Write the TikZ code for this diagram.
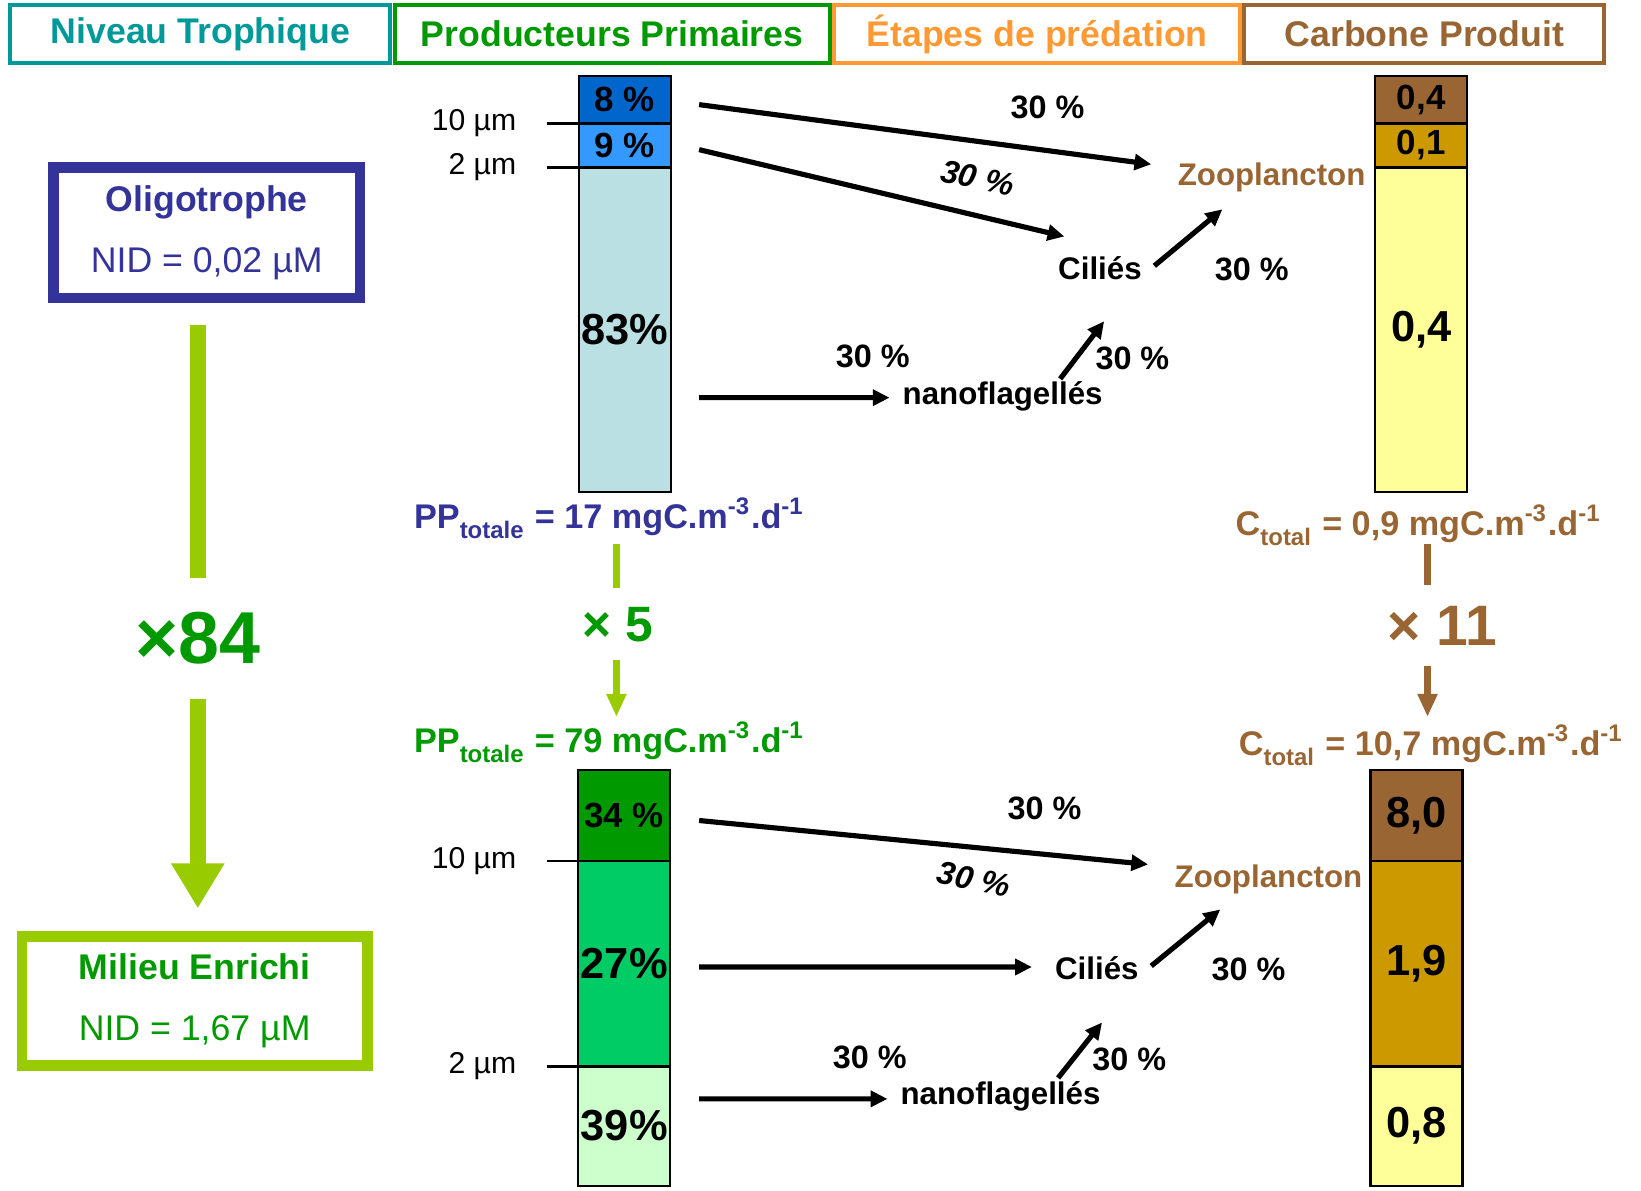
\documentclass[tikz,border=0pt]{standalone}
\usepackage{fontspec}
\setmainfont{Liberation Sans}
\usetikzlibrary{arrows.meta}

\definecolor{nivcol}{RGB}{0,153,153}
\definecolor{prodcol}{RGB}{0,153,0}
\definecolor{predcol}{RGB}{255,153,51}
\definecolor{carbcol}{RGB}{153,102,51}
\definecolor{oligocol}{RGB}{51,51,153}
\definecolor{enrcol}{RGB}{153,204,0}
\definecolor{blueA}{RGB}{0,102,204}
\definecolor{blueB}{RGB}{51,153,255}
\definecolor{blueC}{RGB}{187,224,227}
\definecolor{greenB}{RGB}{0,204,102}
\definecolor{greenC}{RGB}{204,255,204}
\definecolor{ochre}{RGB}{204,153,0}
\definecolor{paleyellow}{RGB}{255,255,153}
\newcommand{\lowsub}[1]{\raisebox{-0.12em}{\textsubscript{#1}}}

\begin{document}
\begin{tikzpicture}[>={Triangle[length=0.16cm,width=0.15cm]},
    header/.style={draw, line width=1.1pt, minimum height=0.55cm, inner sep=0pt, font=\fontsize{9.7}{11}\selectfont\bfseries},
    envbox/.style={draw, line width=2.85pt, align=center, inner sep=0pt, font=\fontsize{9.7}{16.5}\selectfont},
    seg/.style={draw, line width=0.6pt, inner sep=0pt, outer sep=0pt, minimum width=0.88cm, font=\fontsize{9.5}{11}\selectfont\bfseries},
    bigseg/.style={seg, font=\fontsize{11.8}{13}\selectfont\bfseries},
    sizelbl/.style={anchor=east, inner sep=0pt, inner xsep=0.29cm, font=\fontsize{8.2}{10}\selectfont},
    taxon/.style={inner sep=0pt, font=\fontsize{8.5}{10}\selectfont\bfseries},
    pct/.style={inner sep=0pt, font=\fontsize{8.8}{10}\selectfont\bfseries},
    slanted/.style={inner sep=0pt, rotate=-12, font=\fontsize{8.8}{10}\selectfont\bfseries\itshape},
    flow/.style={->, line width=1.4pt},
    total/.style={anchor=base west, inner sep=0pt, font=\fontsize{9.3}{11}\selectfont\bfseries}]
    \useasboundingbox (0,0) rectangle (15.68,11.38);

    % column headers
    \node[header, draw=nivcol, text=nivcol, minimum width=3.63cm] (niveau) at (1.915,11.055) {Niveau Trophique};
    \node[header, draw=prodcol, text=prodcol, minimum width=4.16cm] (prod) at (5.85,11.055) {Producteurs Primaires};
    \node[header, draw=predcol, text=predcol, minimum width=3.88cm] (pred) at (9.91,11.055) {Étapes de prédation};
    \node[header, draw=carbcol, text=carbcol, minimum width=3.44cm] (carb) at (13.61,11.055) {Carbone Produit};

    % trophic level
    \node[envbox, draw=oligocol, text=oligocol, minimum width=2.93cm, minimum height=1.25cm] (oligo) at (1.975,9.155) {\textbf{Oligotrophe}\\NID = 0,02 µM};
    \node[envbox, draw=enrcol, text=prodcol, minimum width=3.30cm, minimum height=1.23cm] (enrichi) at (1.86,1.815) {\textbf{Milieu Enrichi}\\NID = 1,67 µM};
    \node[font=\fontsize{20}{24}\selectfont\bfseries, text=prodcol, inner sep=0pt, minimum height=1.14cm] (fois84) at (1.89,5.28) {×84};
    \draw[enrcol, line width=4.3pt, shorten >=0.21cm] (fois84.north) -- (fois84.north |- oligo.south);
    \draw[enrcol, line width=4.3pt, -{Triangle[length=0.43cm,width=0.48cm]}, shorten >=0.22cm] (fois84.south) -- (fois84.south |- enrichi.north);

    % oligotrophe: primary producers
    \node[seg, fill=blueA, minimum height=0.45cm] (topA) at (5.97,10.425) {8 \%};
    \node[seg, fill=blueB, minimum height=0.42cm] (topB) at (5.97,9.99) {9 \%};
    \node[bigseg, fill=blueC, minimum height=3.10cm] (topC) at (5.97,8.23) {83\%};
    \node[sizelbl] (tenA) at (5.23,10.20) {10 µm};
    \node[sizelbl] (twoA) at (5.23,9.78) {2 µm};
    \draw[line width=0.6pt] (tenA.east) -- (tenA.east -| topA.west);
    \draw[line width=0.6pt] (twoA.east) -- (twoA.east -| topB.west);

    % oligotrophe: carbon
    \node[seg, fill=carbcol, minimum height=0.45cm] (cTopA) at (13.58,10.425) {0,4};
    \node[seg, fill=ochre, minimum height=0.42cm] (cTopB) at (13.58,9.99) {0,1};
    \node[bigseg, fill=paleyellow, minimum height=3.10cm] (cTopC) at (13.58,8.23) {0,4};

    % oligotrophe: predation
    \node[taxon, text=carbcol] (zooA) at (12.15,9.68) {Zooplancton};
    \node[taxon] (ciliA) at (10.51,8.82) {Ciliés};
    \node[taxon] (nanoA) at (9.58,7.59) {nanoflagellés};
    \draw[flow] ([shift={(0.71,-0.045)}]topA.center) -- ([shift={(-1.15,0.13)}]zooA.center);
    \draw[flow] ([shift={(0.71,-0.04)}]topB.center) -- ([shift={(-0.34,0.30)}]ciliA.center);
    \draw[flow] ([shift={(0.71,-0.65)}]topC.center) -- ([shift={(-1.08,-0.01)}]nanoA.center);
    \draw[flow] ([shift={(0.55,0.17)}]nanoA.center) -- ([shift={(0.04,-0.51)}]ciliA.center);
    \draw[flow] ([shift={(0.52,0.02)}]ciliA.center) -- ([shift={(-0.47,-0.30)}]zooA.center);
    \node[pct] (pA1) at (10.01,10.35) {30 \%};
    \node[slanted] (pA2) at (9.34,9.68) {30 \%};
    \node[pct] (pA3) at (8.34,7.97) {30 \%};
    \node[pct] (pA4) at (10.82,7.96) {30 \%};
    \node[pct] (pA5) at (11.96,8.81) {30 \%};

    % totals and factors
    \node[total, text=oligocol] (ppA) at (3.95,6.33) {PP\lowsub{totale} = 17 mgC.m\textsuperscript{-3}.d\textsuperscript{-1}};
    \node[total, text=carbcol] (cA) at (11.80,6.26) {C\lowsub{total} = 0,9 mgC.m\textsuperscript{-3}.d\textsuperscript{-1}};
    \node[total, text=prodcol] (ppB) at (3.95,4.19) {PP\lowsub{totale} = 79 mgC.m\textsuperscript{-3}.d\textsuperscript{-1}};
    \node[total, text=carbcol] (cB) at (11.83,4.16) {C\lowsub{total} = 10,7 mgC.m\textsuperscript{-3}.d\textsuperscript{-1}};
    \node[font=\fontsize{13.5}{16}\selectfont\bfseries, text=prodcol, inner sep=0pt, minimum height=0.67cm] (times5) at (5.90,5.415) {× 5};
    \node[font=\fontsize{15.5}{18}\selectfont\bfseries, text=carbcol, inner sep=0pt, minimum height=0.76cm] (times11) at (13.78,5.40) {× 11};
    \coordinate (ppAfoot) at (5.89,6.18);
    \coordinate (ppBhead) at (5.89,4.53);
    \coordinate (cAfoot) at (13.64,6.18);
    \coordinate (cBhead) at (13.64,4.53);
    \draw[enrcol, line width=1.7pt] (ppAfoot) -- (ppAfoot |- times5.north);
    \draw[enrcol, line width=1.7pt, -{Triangle[length=0.22cm,width=0.18cm]}] (ppAfoot |- times5.south) -- (ppBhead);
    \draw[carbcol, line width=1.7pt] (cAfoot) -- (cAfoot |- times11.north);
    \draw[carbcol, line width=1.7pt, -{Triangle[length=0.22cm,width=0.18cm]}] (cAfoot |- times11.south) -- (cBhead);

    % enrichi: primary producers
    \node[seg, fill=prodcol, minimum height=0.87cm] (botA) at (5.965,3.585) {34 \%};
    \node[bigseg, fill=greenB, minimum height=1.96cm] (botB) at (5.965,2.17) {27\%};
    \node[bigseg, fill=greenC, minimum height=1.14cm] (botC) at (5.965,0.62) {39\%};
    \node[sizelbl] (tenB) at (5.23,3.15) {10 µm};
    \node[sizelbl] (twoB) at (5.23,1.19) {2 µm};
    \draw[line width=0.6pt] (tenB.east) -- (tenB.east -| botA.west);
    \draw[line width=0.6pt] (twoB.east) -- (twoB.east -| botB.west);

    % enrichi: carbon
    \node[bigseg, fill=carbcol, minimum height=0.87cm] (cBotA) at (13.535,3.585) {8,0};
    \node[bigseg, fill=ochre, minimum height=1.96cm] (cBotB) at (13.535,2.17) {1,9};
    \node[bigseg, fill=paleyellow, minimum height=1.14cm] (cBotC) at (13.535,0.62) {0,8};

    % enrichi: predation
    \node[taxon, text=carbcol] (zooB) at (12.12,2.98) {Zooplancton};
    \node[taxon] (ciliB) at (10.48,2.13) {Ciliés};
    \node[taxon] (nanoB) at (9.56,0.90) {nanoflagellés};
    \draw[flow] ([shift={(0.715,-0.045)}]botA.center) -- ([shift={(-1.15,0.14)}]zooB.center);
    \draw[flow] ([shift={(0.715,-0.03)}]botB.center) -- ([shift={(-0.62,0.01)}]ciliB.center);
    \draw[flow] ([shift={(0.715,0.26)}]botC.center) -- ([shift={(-1.08,-0.02)}]nanoB.center);
    \draw[flow] ([shift={(0.55,0.18)}]nanoB.center) -- ([shift={(0.05,-0.52)}]ciliB.center);
    \draw[flow] ([shift={(0.52,0.02)}]ciliB.center) -- ([shift={(-0.46,-0.29)}]zooB.center);
    \node[pct] (pB1) at (9.98,3.66) {30 \%};
    \node[slanted] (pB2) at (9.31,2.98) {30 \%};
    \node[pct] (pB3) at (8.31,1.28) {30 \%};
    \node[pct] (pB4) at (10.79,1.26) {30 \%};
    \node[pct] (pB5) at (11.93,2.12) {30 \%};
\end{tikzpicture}
\end{document}
